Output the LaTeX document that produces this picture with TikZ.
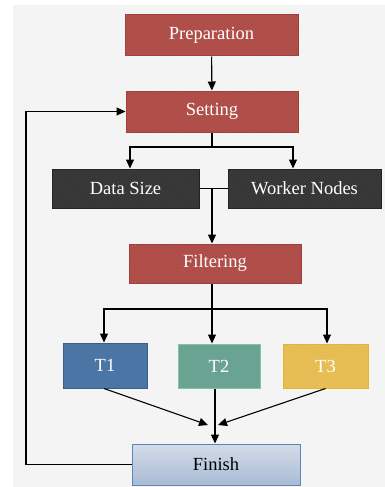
\documentclass[tikz,border=0pt]{standalone}
\usepackage{fontspec}
\setmainfont{Liberation Serif}
\usetikzlibrary{arrows.meta,patterns,positioning}
\definecolor{redfill}{HTML}{B5524E}
\definecolor{redline}{HTML}{A84743}
\definecolor{redborder}{HTML}{9E3E3B}
\definecolor{darkfill}{HTML}{3D3D3D}
\definecolor{darkline}{HTML}{2E2E2E}
\definecolor{darkborder}{HTML}{222222}
\definecolor{tonefill}{HTML}{4A75A5}
\definecolor{toneborder}{HTML}{3A5E8A}
\definecolor{ttwofill}{HTML}{6AA392}
\definecolor{ttwoborder}{HTML}{7CC6A8}
\definecolor{tthreefill}{HTML}{EBC35A}
\definecolor{tthreeline}{HTML}{E0B448}
\definecolor{tthreeborder}{HTML}{E6B530}
\definecolor{fintop}{HTML}{D3DBE7}
\definecolor{finbot}{HTML}{A9BCD5}
\definecolor{finborder}{HTML}{5B86B8}
\definecolor{panel}{HTML}{F4F4F4}
\tikzset{
  box/.style={rectangle, inner sep=0pt, line width=1pt, font=\fontsize{18.5}{21}\selectfont, text=white},
  redbox/.style={box, draw=redborder, fill=redfill, postaction={pattern=north west lines, pattern color=redline}},
  darkbox/.style={box, draw=darkborder, fill=darkfill, postaction={pattern=north west lines, pattern color=darkline}},
  arr/.style={line width=1.1pt, -{Triangle[length=9pt,width=8pt]}},
  ln/.style={line width=1.1pt},
}
\begin{document}
\begin{tikzpicture}[x=1pt,y=-1pt]
\useasboundingbox (0,0) rectangle (385,487);
\fill[panel] (13,5) rectangle (385,487);

\node[redbox, minimum width=173pt, minimum height=41pt] (prep) at (211.5,35.5) {Preparation};
\node[redbox, minimum width=172pt, minimum height=41pt] (setting) at (212,111.5) {Setting};
\node[darkbox, minimum width=147pt, minimum height=39pt] (datasize) at (125.5,188.5) {Data Size};
\node[darkbox, minimum width=153pt, minimum height=39pt] (worker) at (304.5,188.5) {Worker Nodes};
\node[redbox, minimum width=172pt, minimum height=39pt] (filter) at (215,263.5) {Filtering};
\node[box, draw=toneborder, fill=tonefill, minimum width=84pt, minimum height=45pt] (t1) at (105,365.5) {T1};
\node[box, draw=ttwoborder, fill=ttwofill, minimum width=82pt, minimum height=44pt] (t2) at (219,366) {T2};
\node[box, draw=tthreeborder, fill=tthreefill, postaction={pattern=north west lines, pattern color=tthreeline}, minimum width=85pt, minimum height=44pt] (t3) at (325.5,366) {T3};
\node[box, draw=finborder, top color=fintop, bottom color=finbot, text=black, minimum width=168pt, minimum height=41pt] (finish) at (216,464.5) {Finish};

\coordinate (b1) at (212,147);
\coordinate (b2) at (212,188.5);
\coordinate (b3) at (212,309);
\coordinate (loop) at (26,464.5);
\coordinate (m1) at (208,425);
\coordinate (m3) at (218,425);

\draw[arr] (prep) -- (setting);
\draw[ln] (setting.south) -- (b1);
\draw[arr] (b1) -| ([xshift=4.5pt]datasize.north);
\draw[arr] (b1) -| ([xshift=-11.5pt]worker.north);
\draw[ln] (datasize.east) -- (worker.west);
\draw[arr] (b2) -- ([xshift=-3pt]filter.north);
\draw[ln] ([xshift=-3pt]filter.south) -- (b3);
\draw[arr] (b3) -| ([xshift=-1pt]t1.north);
\draw[arr] (b3) -- ([xshift=-7pt]t2.north);
\draw[arr] (b3) -| ([xshift=1.5pt]t3.north);
\draw[arr] ([xshift=-1pt]t1.south) -- (m1);
\draw[arr] (t3.south) -- (m3);
\draw[arr] ([xshift=-4pt]t2.south) -- ([xshift=-1pt]finish.north);
\draw[arr] (finish.west) -- (loop) |- (setting.west);
\end{tikzpicture}
\end{document}
